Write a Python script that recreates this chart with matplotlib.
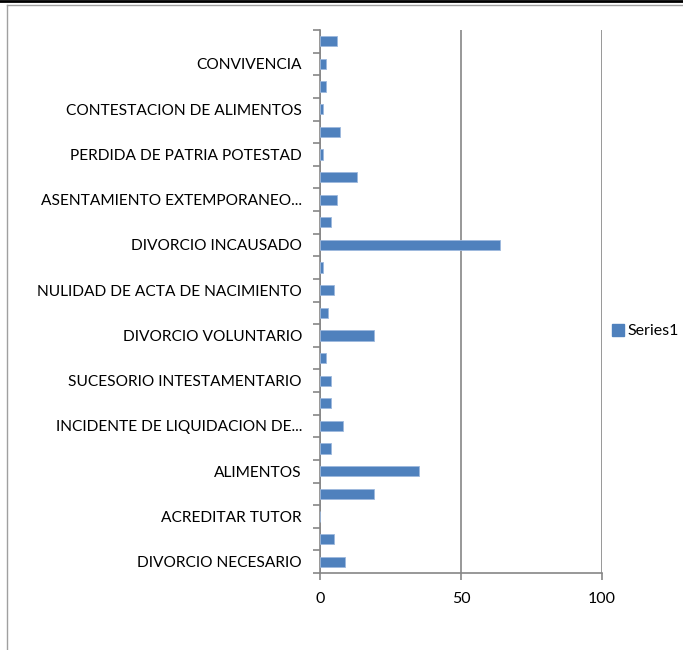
import matplotlib
matplotlib.use("Agg")
import matplotlib.pyplot as plt
from matplotlib.lines import Line2D
import numpy as np

# categorias de baixo para cima (as impares nao aparecem no eixo)
categorias = ["DIVORCIO NECESARIO", "", "ACREDITAR TUTOR", "", "ALIMENTOS", "",
              "INCIDENTE DE LIQUIDACION DE...", "", "SUCESORIO INTESTAMENTARIO", "",
              "DIVORCIO VOLUNTARIO", "", "NULIDAD DE ACTA DE NACIMIENTO", "",
              "DIVORCIO INCAUSADO", "", "ASENTAMIENTO EXTEMPORANEO...", "",
              "PERDIDA DE PATRIA POTESTAD", "", "CONTESTACION DE ALIMENTOS", "",
              "CONVIVENCIA", ""]
valores = [9, 5, 0, 19, 35, 4, 8, 4, 4, 2, 19, 3, 5, 1, 64, 4, 6, 13, 1, 7, 1, 2, 2, 6]
xticks = [0, 50, 100]
serie = "Series1"

plt.rcParams['font.family'] = ['Lato', 'DejaVu Sans']

fig = plt.figure(figsize=(6.83, 6.5), dpi=100)
ax = fig.add_axes([320/683, 1 - 573/650, (602 - 320)/683, (573 - 30)/650])

y = np.arange(len(valores))
ax.barh(y, valores, height=0.45, color='#4F81BD', edgecolor='#9DB9DE', linewidth=0.6, zorder=3)

ax.set_xlim(0, 100)
ax.set_ylim(-0.5, len(valores) - 0.5)
ax.set_xticks(xticks)
ax.set_xticklabels([str(v) for v in xticks], fontsize=11.5)
ax.xaxis.grid(True, color='#868686', linewidth=1.2, zorder=0)

# ticks nas divisas das categorias, rotulos no centro
ax.set_yticks(np.arange(len(valores) + 1) - 0.5)
ax.set_yticklabels([])
ax.set_yticks(y, minor=True)
ax.set_yticklabels(categorias, minor=True, fontsize=11.2)
ax.tick_params(axis='y', which='minor', length=0, pad=13)
ax.tick_params(axis='y', which='major', length=5, color='#868686', width=1.2)
ax.tick_params(axis='x', length=5, color='#868686', width=1.2, pad=9)

for s in ['top', 'right']:
    ax.spines[s].set_visible(False)
for s in ['left', 'bottom']:
    ax.spines[s].set_color('#868686')
    ax.spines[s].set_linewidth(1.2)

handle = Line2D([], [], marker='s', linestyle='none', markersize=8,
                markerfacecolor='#4F81BD', markeredgecolor='#4F81BD')
fig.legend([handle], [serie], loc='center left', bbox_to_anchor=(604/683, 1 - 331/650),
           frameon=False, fontsize=11.5, handletextpad=0.1, borderaxespad=0, handlelength=1.0)

# moldura do grafico
fig.add_artist(Line2D([0, 1], [1 - 1/650, 1 - 1/650], color='black', linewidth=2))
fig.add_artist(Line2D([7/683, 1], [1 - 4.5/650, 1 - 4.5/650], color='#A0A0A0', linewidth=1))
fig.add_artist(Line2D([7/683, 7/683], [0, 1 - 4.5/650], color='#A0A0A0', linewidth=1))

fig.savefig("out.png", dpi=100)
